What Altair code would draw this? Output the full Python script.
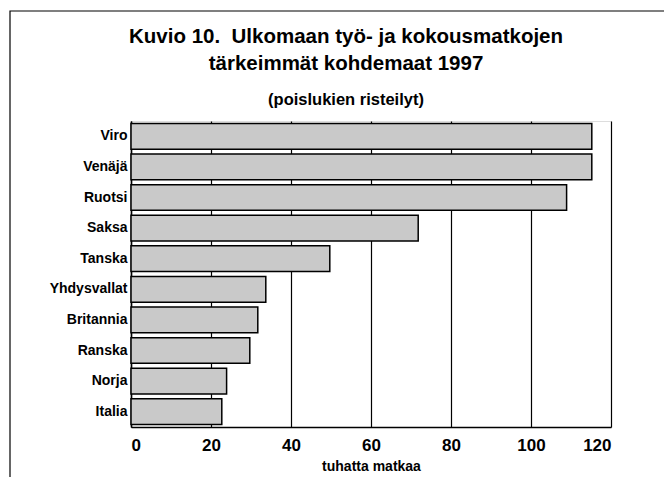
import altair as alt
import pandas as pd

countries = ["Viro", "Venäjä", "Ruotsi", "Saksa", "Tanska", "Yhdysvallat",
             "Britannia", "Ranska", "Norja", "Italia"]
values = [115.2, 115.2, 108.9, 71.8, 49.7, 33.7, 31.7, 29.7, 23.9, 22.7]
x_ticks = [0, 20, 40, 60, 80, 100, 120]

df = pd.DataFrame({"maa": countries, "matkat": values})

FONT = "Liberation Sans"

frame = alt.Chart(pd.DataFrame({"a": [0]})).mark_rect(
    fill=None, stroke="black", strokeWidth=1.2
).encode(
    x=alt.value(-121), x2=alt.value(534),
    y=alt.value(-110), y2=alt.value(370),
)

bars = alt.Chart(df).mark_bar(
    fill="#c9c9c9", stroke="black", strokeWidth=1.5
).encode(
    x=alt.X("matkat:Q",
            scale=alt.Scale(domain=[0, 120], nice=False),
            axis=alt.Axis(values=x_ticks, title="tuhatta matkaa", grid=True,
                          gridColor="black", gridWidth=1.2, gridOpacity=1,
                          ticks=False, domain=True, domainColor="black",
                          domainWidth=1.5, labelFontSize=17, labelFontWeight="bold",
                          labelColor="black", labelPadding=10,
                          titleFontSize=14, titleFontWeight="bold",
                          titleColor="black", titlePadding=6)),
    y=alt.Y("maa:N", sort=countries,
            scale=alt.Scale(paddingInner=0.16, paddingOuter=0.08),
            axis=alt.Axis(title=None, ticks=False, domain=True, domainColor="black",
                          domainWidth=1.5, labelFontSize=14, labelFontWeight="bold",
                          labelColor="black", labelPadding=4, grid=False)),
)

chart = alt.layer(frame, bars).properties(
    width=480,
    height=306,
    title=alt.TitleParams(
        text=["Kuvio 10.\u00a0 Ulkomaan työ- ja kokousmatkojen", "tärkeimmät kohdemaat 1997"],
        subtitle="(poislukien risteilyt)",
        fontSize=20.5, fontWeight="bold", font=FONT, color="black", lineHeight=27,
        subtitleFontSize=16.5, subtitleFontWeight="bold", subtitleFont=FONT,
        subtitleColor="black", subtitlePadding=17,
        anchor="middle", frame="group", offset=-98, dx=-25,
    ),
    autosize=alt.AutoSizeParams(type="none"),
    padding={"left": 123, "top": 113, "right": 53, "bottom": 51},
).configure_view(stroke=None).configure(font=FONT)

chart.save("out.html", embed_options={"renderer": "svg", "actions": False})
